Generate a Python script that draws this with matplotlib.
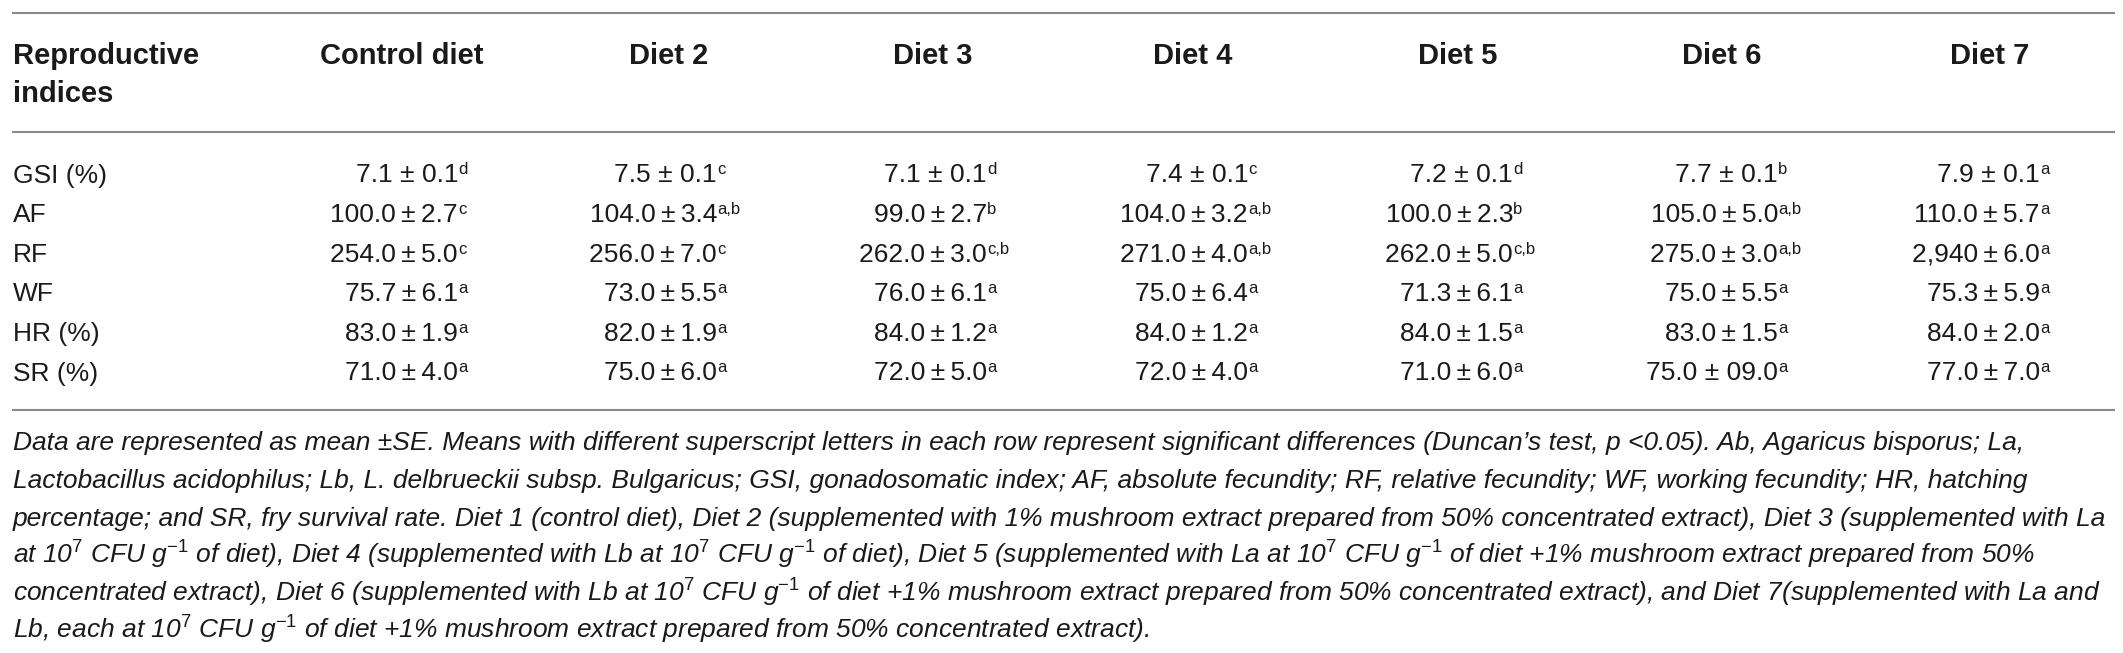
import matplotlib
matplotlib.use("Agg")
import matplotlib.pyplot as plt

plt.rcParams["font.family"] = ["Liberation Sans", "DejaVu Sans"]
plt.rcParams["mathtext.fontset"] = "custom"
plt.rcParams["mathtext.rm"] = "Liberation Sans"
plt.rcParams["mathtext.it"] = "Liberation Sans:italic"

# -----------------------------
# table data
# -----------------------------
columns = ["Control diet", "Diet 2", "Diet 3", "Diet 4", "Diet 5", "Diet 6", "Diet 7"]
indices = ["GSI (%)", "AF", "RF", "WF", "HR (%)", "SR (%)"]

gsi_mean = ["7.1", "7.5", "7.1", "7.4", "7.2", "7.7", "7.9"]
gsi_se = ["0.1", "0.1", "0.1", "0.1", "0.1", "0.1", "0.1"]
gsi_sig = ["d", "c", "d", "c", "d", "b", "a"]
af_mean = ["100.0", "104.0", "99.0", "104.0", "100.0", "105.0", "110.0"]
af_se = ["2.7", "3.4", "2.7", "3.2", "2.3", "5.0", "5.7"]
af_sig = ["c", "a,b", "b", "a,b", "b", "a,b", "a"]
rf_mean = ["254.0", "256.0", "262.0", "271.0", "262.0", "275.0", "2,940"]
rf_se = ["5.0", "7.0", "3.0", "4.0", "5.0", "3.0", "6.0"]
rf_sig = ["c", "c", "c,b", "a,b", "c,b", "a,b", "a"]
wf_mean = ["75.7", "73.0", "76.0", "75.0", "71.3", "75.0", "75.3"]
wf_se = ["6.1", "5.5", "6.1", "6.4", "6.1", "5.5", "5.9"]
wf_sig = ["a", "a", "a", "a", "a", "a", "a"]
hr_mean = ["83.0", "82.0", "84.0", "84.0", "84.0", "83.0", "84.0"]
hr_se = ["1.9", "1.9", "1.2", "1.2", "1.5", "1.5", "2.0"]
hr_sig = ["a", "a", "a", "a", "a", "a", "a"]
sr_mean = ["71.0", "75.0", "72.0", "72.0", "71.0", "75.0", "77.0"]
sr_se = ["4.0", "6.0", "5.0", "4.0", "6.0", "09.0", "7.0"]
sr_sig = ["a", "a", "a", "a", "a", "a", "a"]

rows = [
    (gsi_mean, gsi_se, gsi_sig),
    (af_mean, af_se, af_sig),
    (rf_mean, rf_se, rf_sig),
    (wf_mean, wf_se, wf_sig),
    (hr_mean, hr_se, hr_sig),
    (sr_mean, sr_se, sr_sig),
]

footnote = [
    "Data are represented as mean ±SE. Means with different superscript letters in each row represent "
    "significant differences (Duncan’s test, p <0.05). Ab, Agaricus bisporus; La,",
    "Lactobacillus acidophilus; Lb, L. delbrueckii subsp. Bulgaricus; GSI, gonadosomatic index; AF, absolute "
    "fecundity; RF, relative fecundity; WF, working fecundity; HR, hatching",
    "percentage; and SR, fry survival rate. Diet 1 (control diet), Diet 2 (supplemented with 1% mushroom "
    "extract prepared from 50% concentrated extract), Diet 3 (supplemented with La",
    "at 10$^{7}$ CFU g$^{-1}$ of diet), Diet 4 (supplemented with Lb at 10$^{7}$ CFU g$^{-1}$ of diet), "
    "Diet 5 (supplemented with La at 10$^{7}$ CFU g$^{-1}$ of diet +1% mushroom extract prepared from 50%",
    "concentrated extract), Diet 6 (supplemented with Lb at 10$^{7}$ CFU g$^{-1}$ of diet +1% mushroom "
    "extract prepared from 50% concentrated extract), and Diet 7(supplemented with La and",
    "Lb, each at 10$^{7}$ CFU g$^{-1}$ of diet +1% mushroom extract prepared from 50% concentrated extract).",
]

# -----------------------------
# layout (pixel coordinates)
# -----------------------------
W, H = 2123, 653
head_x = [402, 669, 933, 1193, 1458, 1722, 1990]
cell_x = [458, 717, 987, 1248, 1513, 1778, 2040]
left = 13
rule_color = "#8a8a8a"
ink = "#1a1a1a"
thin = "\u2009"

fig = plt.figure(figsize=(W / 100, H / 100), dpi=100)
ax = fig.add_axes([0, 0, 1, 1])
ax.set_xlim(0, W)
ax.set_ylim(H, 0)
ax.axis("off")

for y in (12.5, 132, 410):
    ax.plot([12, 2115], [y, y], color=rule_color, linewidth=1.5, solid_capstyle="butt")

# header
ax.text(left, 63.5, "Reproductive", fontsize=21, fontweight="bold", color=ink, va="baseline", ha="left")
ax.text(left, 102.5, "indices", fontsize=21, fontweight="bold", color=ink, va="baseline", ha="left")
for x, name in zip(head_x, columns):
    ax.text(x, 63.5, name, fontsize=21, fontweight="bold", color=ink, va="baseline", ha="center")

# body
for i, (label, (means, ses, sig)) in enumerate(zip(indices, rows)):
    yb = 182.5 + 39.6 * i
    ax.text(left, yb, label, fontsize=19, color=ink, va="baseline", ha="left")
    for x, m, e, s in zip(cell_x, means, ses, sig):
        # the odd cell with wide spacing around the sign
        sep = " ± " if e.startswith("0") else thin + "±" + thin
        ax.text(x, yb, m + sep + e, fontsize=19, color=ink, va="baseline", ha="right")
        ax.text(x, yb - 8, s, fontsize=12, color=ink, va="baseline", ha="left")

# footnote
for i, line in enumerate(footnote):
    ax.text(left, 450 + 37.8 * i, line, fontsize=19, style="italic", color=ink,
            va="baseline", ha="left")

fig.savefig("out.png", dpi=100)
